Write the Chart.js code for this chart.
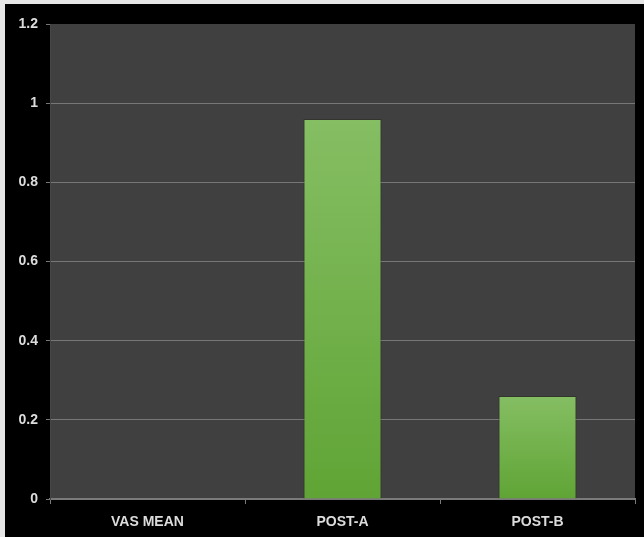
<!DOCTYPE html>
<html>
<head>
<meta charset="utf-8">
<script src="https://cdn.jsdelivr.net/npm/chart.js@4"></script>
<style>
  html, body { margin: 0; padding: 0; background: #e6e6e6; }
  #wrap { position: absolute; left: 5px; top: 4px; width: 639px; height: 533px; background: #000; }
</style>
</head>
<body>
<div id="wrap"><canvas id="vasChart" width="639" height="533"></canvas></div>
<script>
const categories = ["VAS MEAN", "POST-A", "POST-B"];
const vasValues = [0, 0.96, 0.26];
const yTicks = [0, 0.2, 0.4, 0.6, 0.8, 1, 1.2];

// dark plot area behind the bars
const plotBackground = {
  id: 'plotBackground',
  beforeDraw(chart) {
    const { ctx, chartArea: a } = chart;
    ctx.save();
    ctx.fillStyle = '#000';
    ctx.fillRect(0, 0, chart.width, chart.height);
    ctx.fillStyle = '#404040';
    ctx.fillRect(a.left, a.top, a.right - a.left, a.bottom - a.top);
    ctx.restore();
  }
};

function barGradient(context) {
  const chart = context.chart;
  if (!chart.chartArea) return '#72b04a';
  const y = chart.scales.y;
  const v = context.parsed ? context.parsed.y : 0;
  const top = y.getPixelForValue(v);
  const bottom = y.getPixelForValue(0);
  if (!(bottom > top)) return '#72b04a';
  const g = chart.ctx.createLinearGradient(0, top, 0, bottom);
  g.addColorStop(0, '#85be63');
  g.addColorStop(1, '#60a435');
  return g;
}

const labelFont = { family: '"Liberation Sans", Arial, sans-serif', size: 14, weight: 'bold' };

new Chart(document.getElementById('vasChart'), {
  type: 'bar',
  data: {
    labels: categories,
    datasets: [{
      label: 'VAS',
      data: vasValues,
      backgroundColor: barGradient,
      borderColor: 'rgba(30,40,20,0.45)',
      borderWidth: 1,
      categoryPercentage: 1,
      barPercentage: 0.4
    }]
  },
  options: {
    responsive: false,
    animation: false,
    layout: { padding: { top: 20, right: 9, left: 0, bottom: 0 } },
    plugins: { legend: { display: false }, tooltip: { enabled: false } },
    scales: {
      x: {
        grid: { drawOnChartArea: false, drawTicks: true, tickLength: 5, color: '#7a7a7a', offset: true },
        border: { color: '#7a7a7a', width: 2 },
        ticks: { color: '#dcdcdc', font: labelFont, padding: 10, maxRotation: 0 },
        afterFit(scale) { scale.height = 38; }
      },
      y: {
        min: 0,
        max: 1.2,
        afterBuildTicks(scale) { scale.ticks = yTicks.map(v => ({ value: v })); },
        grid: {
          // no line along the top edge, only its tick mark
          color: ctx => (ctx.tick && ctx.tick.value === 1.2 ? 'rgba(0,0,0,0)' : '#777'),
          tickColor: '#777',
          lineWidth: 1,
          drawTicks: true,
          tickLength: 4
        },
        border: { color: '#474747', width: 1 },
        ticks: { color: '#dcdcdc', font: labelFont, padding: 8, callback: v => String(v) },
        afterFit(scale) { scale.width = 45; }
      }
    }
  },
  plugins: [plotBackground]
});
</script>
</body>
</html>
